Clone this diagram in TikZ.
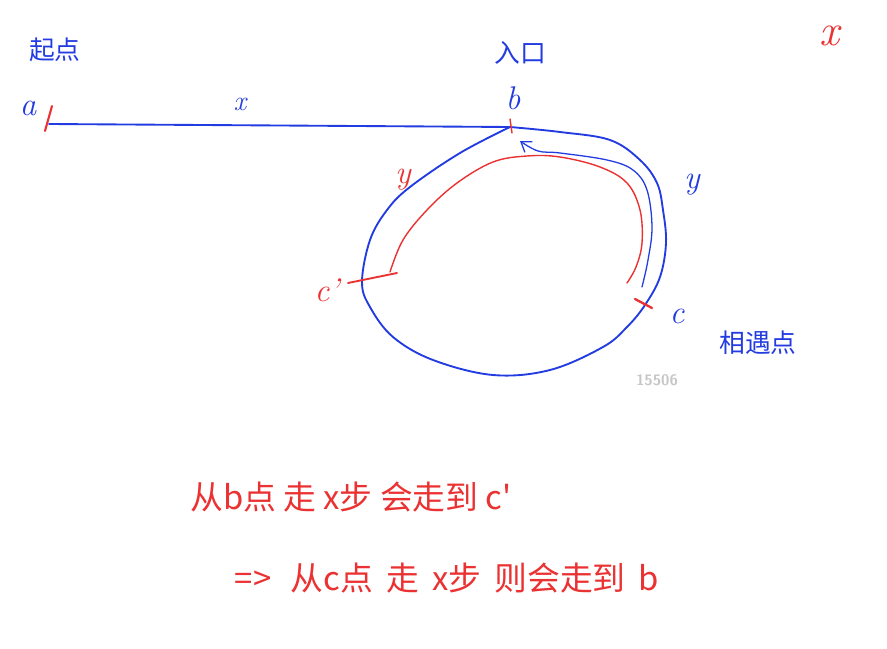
\documentclass[tikz,border=0pt]{standalone}
\usepackage{fontspec}
\newfontfamily\cjk{Noto Sans CJK SC}
\usetikzlibrary{arrows.meta}
\definecolor{penblue}{RGB}{35,60,225}
\definecolor{penred}{RGB}{235,50,50}

\begin{document}
\begin{tikzpicture}[x=0.03cm, y=-0.03cm,
      bluepen/.style={penblue, line width=1.6pt, line cap=round, line join=round},
      redpen/.style={penred, line width=1.2pt, line cap=round, line join=round},
      bluecjk/.style={text=penblue, font=\cjk\fontsize{22}{24}\selectfont},
      redcjk/.style={text=penred, font=\cjk\fontsize{28}{30}\selectfont},
      blueletter/.style={text=penblue, font=\itshape\fontsize{28}{30}\selectfont},
      redletter/.style={text=penred, font=\itshape\fontsize{28}{30}\selectfont},
      watermark/.style={text=black!22, font=\sffamily\bfseries\fontsize{13}{15}\selectfont}]
    \useasboundingbox (0,0) rectangle (887,649);
    \coordinate (a) at (49,124);
    \coordinate (b) at (510,127);
    \coordinate (c) at (645,305);
    \coordinate (c1) at (362,282);
    \coordinate (redstart) at (390,272);
    \coordinate (redend) at (627,283);
    \coordinate (arrowstart) at (642,287);
    \coordinate (arrowend) at (520,141);

    \node[bluecjk] (start) at (55,50) {起点};
    \node[bluecjk] (entry) at (520,53) {入口};
    \node[redletter, font=\itshape\fontsize{38}{40}\selectfont] (corner) at (830,36) {x};
    \node[blueletter] (alabel) at (28,108) {a};
    \node[blueletter] (blabel) at (513,98) {b};
    \node[blueletter, font=\itshape\fontsize{24}{26}\selectfont] (xlabel) at (240,104) {x};
    \node[redletter] (yinner) at (403,180) {y};
    \node[blueletter] (youter) at (692,185) {y};
    \node[redletter] (c1label) at (327,290) {c'};
    \node[blueletter] (clabel) at (677,316) {c};
    \node[bluecjk] (meet) at (758,343) {相遇点};
    \node[watermark] (mark) at (657,380) {15506};
    \node[redcjk] (line1) at (351,497) {从b点 走 x步 会走到 c'};
    \node[redcjk] (line2) at (447,578) {=>\hspace{0.6em}从c点\hspace{0.4em}走\hspace{0.4em}x步\hspace{0.4em}则会走到\hspace{0.4em}b};

    \draw[bluepen] (a) -- (b);
    \draw[bluepen] plot[smooth, tension=0.6] coordinates {(b) (560,132) (610,140) (640,160) (657,183) (663,210) (666,243)
      (660,277) (c) (627,327) (603,347) (550,370) (493,375) (433,360) (393,337) (370,307) (c1)
      (370,240) (387,210) (410,187) (460,153) (b)};
    \draw[redpen] plot[smooth, tension=0.6] coordinates {(redstart) (403,240) (427,210) (457,183) (493,162) (527,156)
      (560,157) (600,167) (627,183) (640,210) (642,243) (636,267) (redend)};
    \draw[bluepen, line width=1.1pt, -{Straight Barb[length=8pt, width=11pt]}] plot[smooth, tension=0.6]
      coordinates {(arrowstart) (648,260) (652,227) (647,190) (633,170) (607,160) (560,153) (538,151) (arrowend)};

    \draw[redpen, line width=1.8pt] ([shift={(-4,7)}]a) -- ([shift={(3,-18)}]a);
    \draw[redpen] ([shift={(0,-8)}]b) -- ([shift={(2,6)}]b);
    \draw[redpen, line width=2pt] ([shift={(-10,-6)}]c) -- ([shift={(7,3)}]c);
    \draw[redpen, line width=1.6pt] ([shift={(-14,1)}]c1) -- ([shift={(35,-9)}]c1);
  \end{tikzpicture}
\end{document}
